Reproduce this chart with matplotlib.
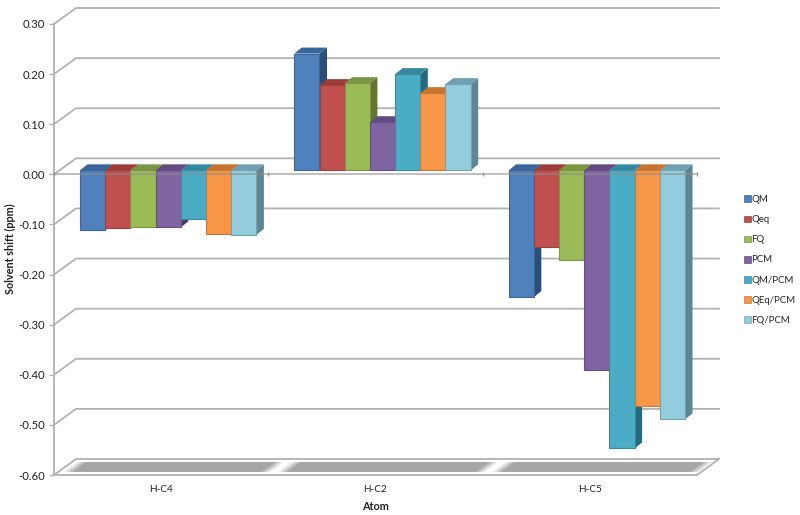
import matplotlib
matplotlib.use("Agg")
import matplotlib.pyplot as plt
from matplotlib.patches import Polygon, Patch
from matplotlib.colors import to_rgb
import numpy as np

plt.rcParams['font.family'] = ['Lato', 'DejaVu Sans']

categories = ['H-C4', 'H-C2', 'H-C5']
series_names = ['QM', 'Qeq', 'FQ', 'PCM', 'QM/PCM', 'QEq/PCM', 'FQ/PCM']
qm = [-0.120, 0.233, -0.253]
qeq = [-0.115, 0.170, -0.153]
fq = [-0.113, 0.174, -0.178]
pcm = [-0.114, 0.096, -0.399]
qm_pcm = [-0.098, 0.192, -0.555]
qeq_pcm = [-0.128, 0.154, -0.471]
fq_pcm = [-0.129, 0.172, -0.497]
series = [qm, qeq, fq, pcm, qm_pcm, qeq_pcm, fq_pcm]
front_colors = ['#4f81bd', '#c0504d', '#9bbb59', '#8064a2', '#4bacc6', '#f79646', '#93cddd']
top_colors = ['#39659b', '#9c3b38', '#7a9543', '#634a82', '#35889f', '#c7742f', '#6f9fb0']
side_colors = ['#2c4d75', '#772c2a', '#5f7530', '#4d3b62', '#276a7c', '#b65708', '#5f8494']
edge_colors = ['#3f6797', '#9a403e', '#7c9647', '#664f82', '#3c899e', '#c57838', '#75a4b1']
yticks = [0.30, 0.20, 0.10, 0.00, -0.10, -0.20, -0.30, -0.40, -0.50, -0.60]
grid_color = '#b2b2b2'

W, H = 800, 515
L, R, T, B = 54, 697, 24, 475
fig = plt.figure(figsize=(W / 100, H / 100), dpi=100)
ax = fig.add_axes([L / W, 1 - B / H, (R - L) / W, (B - T) / H])
ax.set_xlim(0, 3)
ax.set_ylim(-0.6, 0.3)
ux = (R - L) / 3      # px per category
uy = (B - T) / 0.9    # px per y unit
wall_dx, wall_dy = 22 / ux, 16 / uy   # depth of the back wall in data units


def depth(x, y, d):
    return x + d * wall_dx, y + d * wall_dy


# walls: gridlines and diagonals
for v in yticks:
    x0, y0 = depth(0, v, 0)
    x1, y1 = depth(0, v, 1)
    x2, _ = depth(3, v, 1)
    ax.plot([x0, x1, x2], [y0, y1, y1], color=grid_color, lw=1.3, zorder=1,
            clip_on=False, solid_joinstyle='miter')
# floor right edge
xa, ya = depth(3, -0.6, 0)
xb, yb = depth(3, -0.6, 1)
ax.plot([xa, xb], [ya, yb], color=grid_color, lw=1.3, zorder=1, clip_on=False)

# floor shadows with soft ends
base = np.array(to_rgb('#a6a6a6'))
layers = 7
for i in range(len(categories)):
    for k in range(layers):
        f = (k + 1) / layers
        inset = (k - layers / 2) * 1.6 / ux
        d0, d1 = 0.2, 0.8
        xl, xr = i + 0.05 + inset, i + 0.965 - inset
        pts = [depth(xl, -0.6, d0), depth(xr, -0.6, d0), depth(xr, -0.6, d1), depth(xl, -0.6, d1)]
        col = 1 - f * (1 - base)
        ax.add_patch(Polygon(pts, closed=True, fc=col, ec='none', zorder=2, clip_on=False))

# 3D bars
bar_w = 25.2 / ux
bar_dx, bar_dy = 7 / ux, 4 / uy      # front face offset from axis plane
dep_x, dep_y = 7.5 / ux, 6 / uy      # depth of the bar
n = len(series)
z = 3
for i in range(len(categories)):
    for s in range(n):
        v = series[s][i]
        x0 = i + 0.5 + (s - n / 2) * bar_w + bar_dx
        x1 = x0 + bar_w
        y0 = bar_dy
        yv = v + bar_dy
        ytop = max(y0, yv)
        ybot = min(y0, yv)
        ax.add_patch(Polygon([(x1, ybot), (x1 + dep_x, ybot + dep_y), (x1 + dep_x, ytop + dep_y), (x1, ytop)],
                             closed=True, fc=side_colors[s], ec='none', zorder=z))
        ax.add_patch(Polygon([(x0, ytop), (x1, ytop), (x1 + dep_x, ytop + dep_y), (x0 + dep_x, ytop + dep_y)],
                             closed=True, fc=top_colors[s], ec='none', zorder=z))
        ax.bar(x0, v, width=bar_w, bottom=y0, align='edge', color=front_colors[s],
               edgecolor=edge_colors[s], linewidth=0.8, zorder=z + 0.5)
        z += 1

# zero axis line over bars
ax.axhline(0, color='#8c8c8c', lw=1.2, alpha=0.65, zorder=z + 1, clip_on=False)
ax.plot(range(len(categories) + 1), [0] * (len(categories) + 1), linestyle='none', marker='|',
        ms=3, color='#999999', zorder=z + 1, clip_on=False)

ax.set_facecolor('none')
for sp in ['top', 'right']:
    ax.spines[sp].set_visible(False)
for sp in ['left', 'bottom']:
    ax.spines[sp].set_color(grid_color)
    ax.spines[sp].set_linewidth(1.3)
    ax.spines[sp].set_zorder(1.5)
ax.set_yticks(yticks)
ax.set_yticklabels([f'{v:.2f}' for v in yticks], fontsize=8.2, color='#222222')
ax.tick_params(axis='y', length=3.5, width=1, color=grid_color, pad=3)
ax.set_xticks(np.arange(len(categories)) + 0.5)
ax.set_xticklabels(categories, fontsize=7.2, color='#222222')
ax.tick_params(axis='x', length=0, pad=7.5)
fig.text(375 / W, 1 - 507 / H, 'Atom', fontsize=7.8, fontweight='bold',
         ha='center', va='center', color='#222222')
fig.text(10 / W, 1 - 249 / H, 'Solvent shift (ppm)', fontsize=7.8, fontweight='bold', rotation=90,
         ha='center', va='center', color='#222222')

handles = [Patch(fc=c, ec=e, lw=0.5) for c, e in zip(front_colors, edge_colors)]
fig.legend(handles, series_names, loc='center left', bbox_to_anchor=(739 / W, 1 - 260 / H), frameon=False,
           fontsize=6.9, handlelength=0.7, handleheight=0.7, handletextpad=0.1, labelspacing=1.16,
           borderpad=0, labelcolor='#222222')

fig.savefig('out.png', dpi=100)
